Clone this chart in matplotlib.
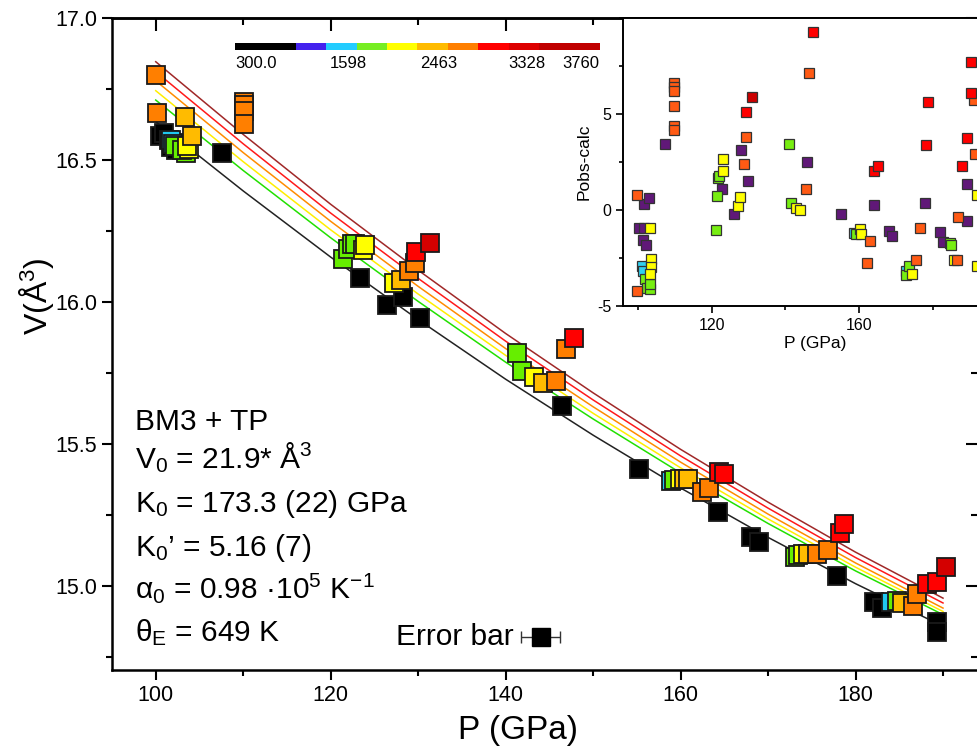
import matplotlib
matplotlib.use('Agg')
import matplotlib.pyplot as plt
import numpy as np
from matplotlib.colors import ListedColormap, BoundaryNorm
from matplotlib.ticker import MultipleLocator, FormatStrFormatter, FixedLocator

plt.rcParams['font.family'] = ['Liberation Sans', 'DejaVu Sans']
plt.rcParams['mathtext.fontset'] = 'custom'
plt.rcParams['mathtext.rm'] = 'Liberation Sans'
plt.rcParams['mathtext.it'] = 'Liberation Sans:italic'
plt.rcParams['mathtext.default'] = 'regular'
plt.rcParams['axes.unicode_minus'] = False

# ---------------- data: main panel (P in GPa, V in A^3) ----------------
p_black = [100.5, 101.0, 101.5, 101.8, 102.3, 102.0, 107.6, 123.4, 126.4, 128.3, 130.2,
           146.4, 155.3, 164.3, 168.0, 169.0, 177.9, 182.1, 183.0, 189.3, 189.3]
v_black = [16.585, 16.595, 16.570, 16.545, 16.535, 16.560, 16.524, 16.083, 15.989, 16.019, 15.945,
           15.634, 15.412, 15.262, 15.174, 15.154, 15.036, 14.945, 14.921, 14.874, 14.839]
p_cyan = [101.8, 102.0, 158.9, 184.1]
v_cyan = [16.570, 16.555, 15.371, 14.943]
p_green = [102.2, 103.5, 103.0, 121.4, 122.0, 122.4, 122.8, 141.3, 141.9, 159.3, 173.1, 173.4, 184.7]
v_green = [16.550, 16.525, 16.535, 16.150, 16.186, 16.203, 16.205, 15.819, 15.757, 15.373, 15.101, 15.109, 14.947]
p_yellow = [103.8, 103.6, 123.7, 123.9, 127.2, 143.2, 159.9, 174.0]
v_yellow = [16.540, 16.550, 16.183, 16.201, 16.066, 15.735, 15.376, 15.113]
p_lorange = [103.4, 104.1, 128.0, 144.3, 160.4, 160.9, 174.6, 185.3]
v_lorange = [16.650, 16.585, 16.077, 15.716, 15.378, 15.377, 15.113, 14.939]
p_orange = [100.0, 100.1, 110.1, 110.1, 110.1, 110.1, 128.9, 129.6, 145.8, 146.9, 162.4, 163.3,
            175.6, 176.8, 186.6, 187.0]
v_orange = [16.800, 16.664, 16.705, 16.694, 16.674, 16.626, 16.109, 16.136, 15.722, 15.833, 15.332, 15.346,
            15.111, 15.127, 14.931, 14.971]
p_red = [129.7, 147.8, 164.4, 165.0, 178.2, 178.7, 188.2, 189.3]
v_red = [16.177, 15.874, 15.402, 15.393, 15.186, 15.218, 15.006, 15.013]
p_dred = [131.3, 190.3]
v_dred = [16.207, 15.068]

# isotherms
iso_P = [100, 110, 120, 130, 140, 150, 160, 170, 180, 190]
iso_300 = [16.635, 16.391, 16.158, 15.938, 15.728, 15.531, 15.345, 15.171, 15.008, 14.858]
iso_green = [16.711, 16.463, 16.226, 16.002, 15.788, 15.588, 15.398, 15.220, 15.053, 14.899]
iso_yellow = [16.744, 16.494, 16.254, 16.028, 15.812, 15.608, 15.416, 15.236, 15.066, 14.910]
iso_orange = [16.779, 16.526, 16.284, 16.055, 15.836, 15.631, 15.436, 15.253, 15.081, 14.922]
iso_red = [16.811, 16.557, 16.313, 16.083, 15.862, 15.655, 15.458, 15.274, 15.100, 14.940]
iso_dred = [16.846, 16.590, 16.344, 16.112, 15.889, 15.680, 15.481, 15.295, 15.119, 14.957]

# error bar example
err_P = [144.0]
err_V = [14.82]
err_dP = [2.2]

# colour scale
cb_labels = ['300.0', '1598', '2463', '3328', '3760']
cb_label_pos = [0.0, 3.1, 6.1, 9.0, 10.75]
cb_edges = [0, 2, 3, 4, 5, 6, 7, 8, 9, 10, 12]
cb_colors = ['#000000', '#4422ee', '#22ccff', '#77ee22', '#ffff00', '#ffbb00',
             '#ff7f00', '#ff0000', '#dd0000', '#c00000']

# ---------------- data: inset residuals ----------------
ip_purple = [101.7, 103.1, 100.4, 101.8, 101.4, 102.1, 107.4, 122.7, 126.0, 128.1, 129.9, 145.8,
             155.0, 163.9, 168.0, 168.9, 177.8, 181.9, 182.6, 189.1, 189.2]
ir_purple = [0.33, 0.61, -0.92, -0.92, -1.58, -1.82, 3.42, 1.08, -0.23, 3.11, 1.51, 2.50,
             -0.19, 0.26, -1.09, -1.35, 0.38, -1.13, -1.67, -0.57, 1.37]
ip_cyan = [101.2, 101.3, 158.5, 172.6]
ir_cyan = [-2.90, -3.20, -1.18, -3.20]
ip_green = [101.9, 102.5, 103.2, 103.4, 121.2, 121.4, 121.7, 121.9, 141.0, 141.6, 159.1, 172.8,
            173.5, 184.5, 184.8]
ir_green = [-3.60, -4.05, -4.10, -3.85, -1.04, 0.73, 1.68, 1.77, 3.42, 0.38, -1.24, -3.40,
            -2.92, -1.70, -1.80]
ip_yellow = [103.3, 103.7, 103.6, 103.4, 123.2, 123.2, 127.2, 127.8, 142.8, 144.0, 160.2, 160.6,
             174.2, 185.6, 191.9, 191.9]
ir_yellow = [-0.92, -2.57, -2.97, -3.35, 2.03, 2.67, 0.21, 0.68, 0.12, -0.02, -0.99, -1.24,
             -3.32, -2.62, 0.77, -2.92]
ip_orange = [99.8, 99.8, 109.8, 109.8, 109.8, 109.8, 109.8, 109.8, 128.7, 129.2, 145.5, 146.5,
             163.0, 162.2, 175.5, 176.6, 186.5, 186.8, 191.0, 191.5]
ir_orange = [0.76, -4.20, 6.63, 6.40, 6.20, 5.42, 4.38, 4.15, 2.41, 3.80, 1.11, 7.15,
             -1.61, -2.74, -2.60, -0.95, -2.62, -0.36, 5.71, 2.93]
ip_red = [129.4, 147.4, 164.1, 165.0, 178.2, 178.6, 188.0, 189.1, 190.2, 190.2]
ir_red = [5.12, 9.27, 2.03, 2.29, 3.39, 5.63, 2.27, 3.77, 6.11, 7.73]
ip_dred = [130.9]
ir_dred = [5.89]

inset_major_x = [80, 120, 160]
inset_minor_x = [100, 140, 180]

# ---------------- figure ----------------
W, H = 978, 749
fig = plt.figure(figsize=(W / 100, H / 100), dpi=100)


def fr(x0, y0, x1, y1):
    return [x0 / W, 1 - y1 / H, (x1 - x0) / W, (y1 - y0) / H]


ax = fig.add_axes(fr(112, 18, 978, 670))
ax.set_xlim(95, 194)
ax.set_ylim(14.704, 17.0)

for vals, c in [(iso_300, '#222222'), (iso_green, '#22e000'), (iso_yellow, '#ffee00'),
                (iso_orange, '#ff8c00'), (iso_red, '#ff1a1a'), (iso_dred, '#a02828')]:
    ax.plot(iso_P, vals, color=c, lw=1.1, zorder=2)

ms = 12.5
for p, v, c in [(p_black, v_black, '#000000'), (p_cyan, v_cyan, '#20c8f0'),
                (p_green, v_green, '#66ee00'), (p_yellow, v_yellow, '#ffff00'),
                (p_lorange, v_lorange, '#ffbb00'), (p_orange, v_orange, '#ff7f00'),
                (p_red, v_red, '#ff0000'), (p_dred, v_dred, '#d40000')]:
    ax.plot(p, v, 's', ms=ms, mfc=c, mec='#1a1a1a', mew=1.3, ls='none', zorder=3)

ax.errorbar(err_P, err_V, xerr=err_dP, fmt='s', ms=ms, mfc='black', mec='black',
            ecolor='#333333', elinewidth=1.0, capsize=4.5, capthick=1.0, zorder=3)
ax.text(514 / W, 1 - 645 / H, 'Error bar', transform=fig.transFigure, ha='right',
        va='baseline', fontsize=21.5)

# ticks
ax.xaxis.set_major_locator(MultipleLocator(20))
ax.xaxis.set_minor_locator(MultipleLocator(10))
ax.yaxis.set_major_locator(MultipleLocator(0.5))
ax.yaxis.set_minor_locator(MultipleLocator(0.25))
ax.yaxis.set_major_formatter(FormatStrFormatter('%.1f'))
ax.tick_params(which='both', direction='out', width=1.5, labelsize=15.5)
ax.tick_params(which='major', length=7)
ax.tick_params(which='minor', length=4.5)
for s in ax.spines.values():
    s.set_linewidth(1.8)

secx = ax.secondary_xaxis('top')
secx.xaxis.set_major_locator(MultipleLocator(20))
secx.xaxis.set_minor_locator(MultipleLocator(10))
secx.tick_params(which='both', direction='in', width=1.5, labeltop=False)
secx.tick_params(which='major', length=9)
secx.tick_params(which='minor', length=5)
secx.spines['top'].set_linewidth(1.8)
secy = ax.secondary_yaxis('right')
secy.yaxis.set_major_locator(MultipleLocator(0.5))
secy.yaxis.set_minor_locator(MultipleLocator(0.25))
secy.tick_params(which='both', direction='in', width=1.5, labelright=False)
secy.tick_params(which='major', length=9)
secy.tick_params(which='minor', length=5)

ax.set_xlabel('P (GPa)', fontsize=24)
ax.set_ylabel('V(Å$^3$)', fontsize=23)
ax.xaxis.set_label_coords((518 - 112) / (978 - 112), -(731 - 670) / (670 - 18), transform=ax.transAxes)
ax.xaxis.label.set_va('center')
ax.yaxis.set_label_coords(-(112 - 36) / (978 - 112), (670 - 296) / (670 - 18), transform=ax.transAxes)
ax.yaxis.label.set_va('center')

# parameter block
lines = ['BM3 + TP', 'V$_0$ = 21.9* Å$^3$', 'K$_0$ = 173.3 (22) GPa', 'K$_0$’ = 5.16 (7)',
         'α$_0$ = 0.98 ·10$^5$ K$^{-1}$', 'θ$_E$ = 649 K']
baselines = [430, 468, 512, 556, 598, 641]
for t, b in zip(lines, baselines):
    fig.text(135 / W, 1 - b / H, t, fontsize=21.5, ha='left', va='baseline')

# colour bar
cax = fig.add_axes(fr(235, 43, 600, 50))
cax.pcolormesh(cb_edges, [0, 1], [np.arange(len(cb_colors))], cmap=ListedColormap(cb_colors),
               norm=BoundaryNorm(np.arange(-0.5, len(cb_colors) + 0.5, 1), len(cb_colors)))
cax.set_xlim(0, 12)
cax.set_ylim(0, 1)
cax.axis('off')
for lab, pos in zip(cb_labels, cb_label_pos):
    cax.text(pos, -0.8, lab, ha='left', va='top', fontsize=12)

# inset
ins = fig.add_axes(fr(623, 18, 623 + 104 * 3.69, 306))
ins.set_zorder(5)
ins.set_xlim(96, 200)
ins.set_ylim(-5, 10)
for p, r, c in [(ip_purple, ir_purple, '#601878'), (ip_cyan, ir_cyan, '#30d0f0'),
                (ip_green, ir_green, '#77ee11'), (ip_yellow, ir_yellow, '#ffff00'),
                (ip_orange, ir_orange, '#ff5a14'), (ip_red, ir_red, '#ff0000'),
                (ip_dred, ir_dred, '#cc0000')]:
    ins.plot(p, r, 's', ms=7.5, mfc=c, mec='#333333', mew=0.9, ls='none', zorder=3)
ins.xaxis.set_major_locator(FixedLocator(inset_major_x))
ins.xaxis.set_minor_locator(FixedLocator(inset_minor_x))
ins.yaxis.set_major_locator(FixedLocator([-5, 0, 5]))
ins.yaxis.set_minor_locator(MultipleLocator(2.5))
ins.tick_params(which='both', direction='out', width=1.2, labelsize=11.5)
ins.tick_params(which='major', length=5)
ins.tick_params(which='minor', length=3)
for s in ins.spines.values():
    s.set_linewidth(1.4)
ins.set_xlabel('P (GPa)', fontsize=12.5, labelpad=2)
ins.set_ylabel('Pobs-calc', fontsize=12.5, labelpad=4)

fig.savefig('out.png', dpi=100)
